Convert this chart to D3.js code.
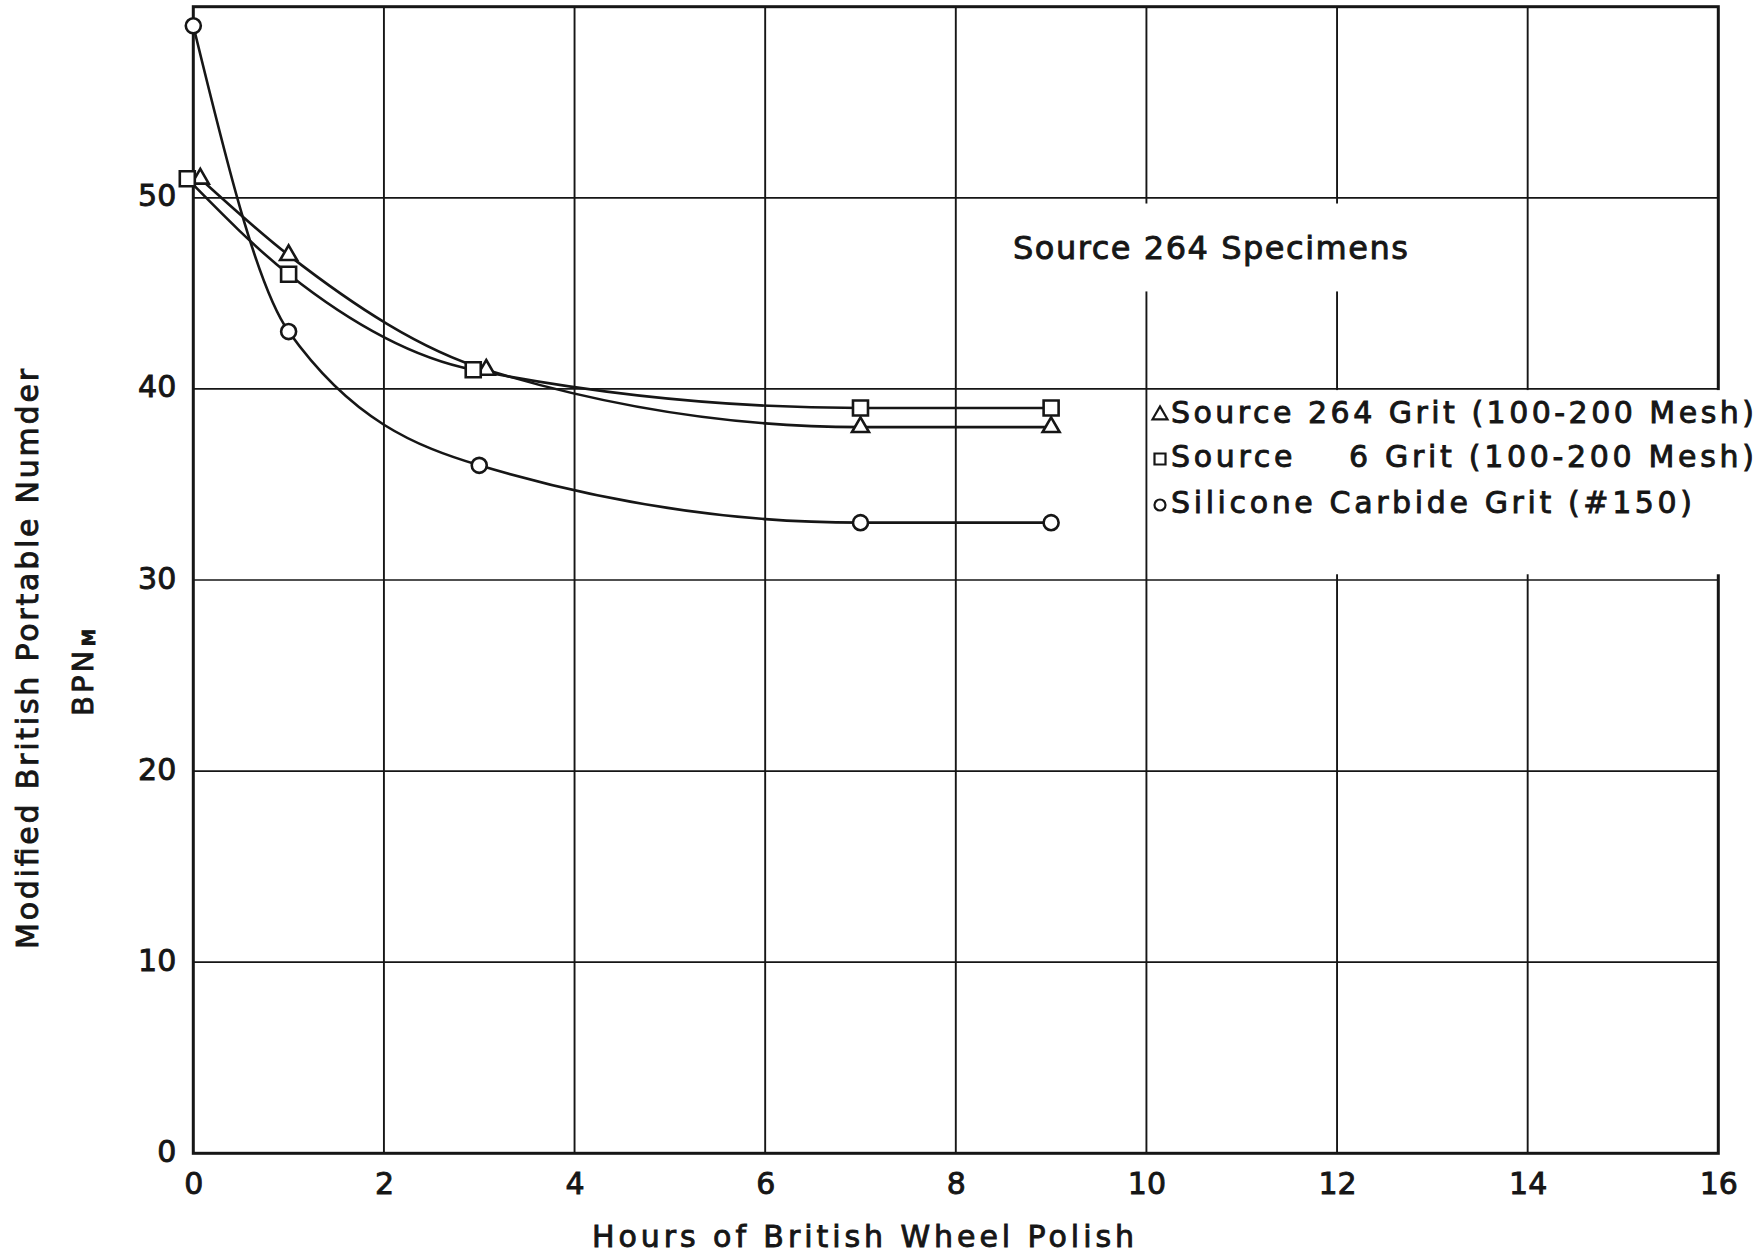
<!DOCTYPE html>
<html>
<head>
<meta charset="utf-8">
<script src="https://cdn.jsdelivr.net/npm/d3@7"></script>
<style>
  html, body { margin: 0; padding: 0; background: #fff; }
  svg { display: block; }
  text { font-family: "DejaVu Sans", sans-serif; fill: #161616; stroke: #161616; stroke-width: 0.9px; }
</style>
</head>
<body>
<svg id="chart" width="1754" height="1257"></svg>
<script>
// Polishing time (hours) at which each specimen set was tested
const hours = [0, 1, 3, 7, 9];

// BPN_M readings for each grit
const source264Grit = [51, 47, 41, 38, 38];
const source6Grit = [51, 46, 41, 39, 39];
const siliconeCarbideGrit = [59, 43, 36, 33, 33];

// Axis ticks
const xTicks = [0, 2, 4, 6, 8, 10, 12, 14, 16];
const yTicks = [0, 10, 20, 30, 40, 50];

// Legend labels
const legendLabels = [
  "Source 264 Grit (100-200 Mesh)",
  "Source    6 Grit (100-200 Mesh)",
  "Silicone Carbide Grit (#150)"
];

const INK = "#161616";
const svg = d3.select("#chart");

const x = d3.scaleLinear().domain([0, 16]).range([193.3, 1718.3]);
const y = d3.scaleLinear().domain([0, 60]).range([1153.3, 6.7]);

const series = [
  { key: "tri", values: source264Grit, symbol: d3.symbolTriangle, size: 125, nudge: 7 },
  { key: "sq", values: source6Grit, symbol: d3.symbolSquare, size: 225, nudge: -6 },
  { key: "circ", values: siliconeCarbideGrit, symbol: d3.symbolCircle, size: 177, nudge: 0 }
];

// Points shared by two series are pushed apart sideways so both markers stay visible
function pointsOf(s) {
  return hours.map((h, i) => {
    const v = s.values[i];
    const shared = series.some(o => o !== s && o.values[i] === v);
    return [x(h) + (shared ? s.nudge : 0), y(v)];
  });
}

// ---- grid ----
const grid = svg.append("g").attr("stroke", INK).attr("fill", "none");
grid.selectAll("line.v")
  .data(xTicks.filter(d => d > 0 && d < 16))
  .join("line").attr("class", "v")
  .attr("x1", d => x(d)).attr("x2", d => x(d))
  .attr("y1", y(60)).attr("y2", y(0))
  .attr("stroke-width", 1.9);
grid.selectAll("line.h")
  .data(yTicks.filter(d => d > 0))
  .join("line").attr("class", "h")
  .attr("x1", x(0)).attr("x2", x(16))
  .attr("y1", d => y(d)).attr("y2", d => y(d))
  .attr("stroke-width", 1.7);
grid.append("rect")
  .attr("x", x(0)).attr("y", y(60))
  .attr("width", x(16) - x(0)).attr("height", y(0) - y(60))
  .attr("stroke-width", 3);

// ---- white label panels over the grid ----
svg.append("rect")
  .attr("x", 990).attr("y", y(49.7))
  .attr("width", 435).attr("height", y(45.1) - y(49.7))
  .attr("fill", "#fff");
svg.append("rect")
  .attr("x", x(10) + 1.5).attr("y", y(40) + 1.2)
  .attr("width", 1754 - x(10)).attr("height", y(30.3) - y(40) - 1.2)
  .attr("fill", "#fff");

// ---- axes (tick labels only) ----
const gx = svg.append("g")
  .attr("transform", `translate(0,${y(0)})`)
  .call(d3.axisBottom(x).tickValues(xTicks).tickSize(0).tickFormat(d3.format("d")));
gx.select(".domain").remove();
gx.attr("font-family", null).attr("font-size", null);
gx.selectAll("text")
  .attr("y", 41).attr("dy", null)
  .style("font-size", "30px");

const gy = svg.append("g")
  .attr("transform", `translate(${x(0)},0)`)
  .call(d3.axisLeft(y).tickValues(yTicks).tickSize(0).tickFormat(d3.format("d")));
gy.select(".domain").remove();
gy.attr("font-family", null).attr("font-size", null);
gy.selectAll("text")
  .attr("x", -17).attr("dy", null).attr("y", 8)
  .style("font-size", "30px");

// ---- curves ----
const line = d3.line().curve(d3.curveMonotoneX);
svg.append("g")
  .selectAll("path")
  .data(series)
  .join("path")
  .attr("d", s => line(pointsOf(s)))
  .attr("fill", "none")
  .attr("stroke", INK)
  .attr("stroke-width", 2.6);

// ---- markers ----
series.forEach(s => {
  svg.append("g")
    .selectAll("path")
    .data(pointsOf(s))
    .join("path")
    .attr("transform", d => `translate(${d[0]},${d[1]})`)
    .attr("d", d3.symbol(s.symbol, s.size)())
    .attr("fill", "#fff")
    .attr("stroke", INK)
    .attr("stroke-width", 2.6);
});

// ---- annotation ----
svg.append("text")
  .attr("x", 1013).attr("y", 259)
  .attr("textLength", 395).attr("lengthAdjust", "spacing")
  .style("font-size", "32px")
  .text("Source 264 Specimens");

// ---- legend ----
const legendRows = [
  { label: legendLabels[0], symbol: d3.symbolTriangle, size: 97, baseline: 423, end: 1754 },
  { label: legendLabels[1], symbol: d3.symbolSquare, size: 121, baseline: 467, end: 1754 },
  { label: legendLabels[2], symbol: d3.symbolCircle, size: 95, baseline: 513, end: 1692 }
];
const legend = svg.append("g");
legendRows.forEach(r => {
  legend.append("path")
    .attr("transform", `translate(1160,${r.baseline - 8})`)
    .attr("d", d3.symbol(r.symbol, r.size)())
    .attr("fill", "#fff")
    .attr("stroke", INK)
    .attr("stroke-width", 2.2);
  legend.append("text")
    .attr("x", 1171).attr("y", r.baseline)
    .attr("textLength", r.end - 1171).attr("lengthAdjust", "spacing")
    .style("font-size", "30px")
    .style("white-space", "pre")
    .text(r.label);
});

// ---- axis titles ----
svg.append("text")
  .attr("x", 592).attr("y", 1247)
  .attr("textLength", 542).attr("lengthAdjust", "spacing")
  .style("font-size", "30px")
  .text("Hours of British Wheel Polish");

svg.append("text")
  .attr("transform", "translate(38,949) rotate(-90)")
  .attr("textLength", 580).attr("lengthAdjust", "spacing")
  .style("font-size", "30px")
  .text("Modified British Portable Numder");

const bpn = svg.append("text")
  .attr("transform", "translate(93,716) rotate(-90)")
  .style("font-size", "29px")
  .style("letter-spacing", "3px");
bpn.append("tspan").text("BPN");
bpn.append("tspan").attr("dy", 2).attr("dx", 2).style("font-size", "17px").style("font-weight", "bold").text("M");
</script>
</body>
</html>
